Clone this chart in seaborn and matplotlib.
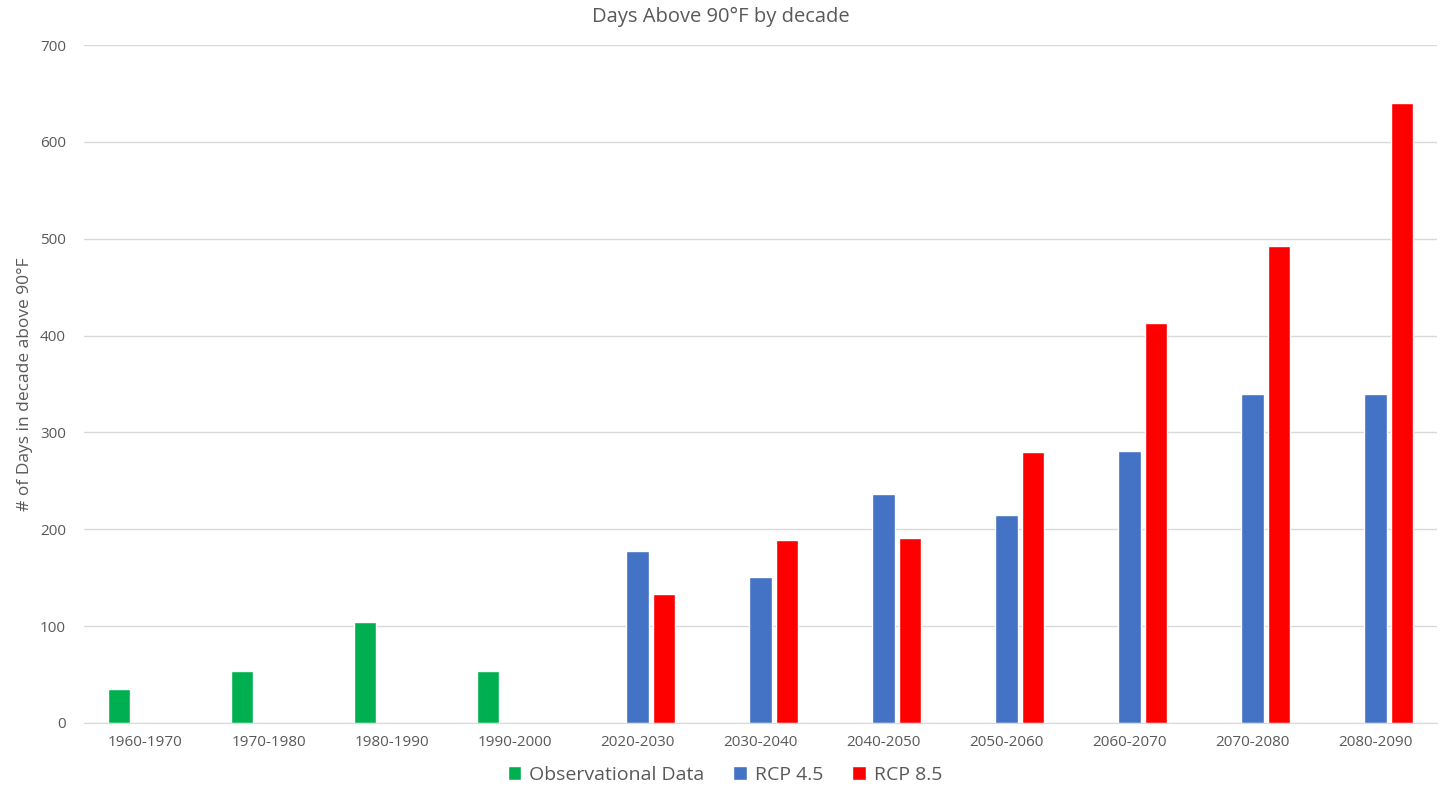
import pandas as pd
import seaborn as sns
from matplotlib import pyplot as plt

# decades on the x axis
decades = ['1960-1970', '1970-1980', '1980-1990', '1990-2000', '2020-2030', '2030-2040',
           '2040-2050', '2050-2060', '2060-2070', '2070-2080', '2080-2090']
obs_decades = decades[:4]
model_decades = decades[4:]

observed = [35, 54, 104, 54]
rcp45 = [178, 151, 236, 215, 281, 340, 340]
rcp85 = [133, 189, 191, 280, 413, 492, 640]

series = ['Observational Data', 'RCP 4.5', 'RCP 8.5']
colors = ['#00B050', '#4472C4', '#FF0000']

rows = []
for d, v in zip(obs_decades, observed):
    rows.append((d, series[0], v))
for d, v in zip(model_decades, rcp45):
    rows.append((d, series[1], v))
for d, v in zip(model_decades, rcp85):
    rows.append((d, series[2], v))
df = pd.DataFrame(rows, columns=['decade', 'series', 'days'])

sns.set_style('white')
plt.rcParams['font.family'] = ['Open Sans', 'DejaVu Sans']
grey = '#595959'

fig = plt.figure(figsize=(14.41, 7.86), dpi=100)
ax = fig.add_axes([0.0583, 0.0802, 0.9389, 0.8625])

sns.barplot(data=df, x='decade', y='days', hue='series', order=decades,
            hue_order=series, palette=colors, width=0.65, gap=0.15,
            saturation=1, ax=ax, legend=True)

ax.set_ylim(0, 700)
ax.set_xlim(-0.5, len(decades) - 0.5)
ax.set_yticks(range(0, 701, 100))
ax.grid(axis='y', color='#D9D9D9', linewidth=1)
ax.set_axisbelow(True)
for s in ['top', 'right', 'left']:
    ax.spines[s].set_visible(False)
ax.spines['bottom'].set_color('#D9D9D9')
ax.tick_params(axis='both', length=0, labelsize=11, colors=grey)
ax.tick_params(axis='x', pad=9)
ax.tick_params(axis='y', pad=13)

ax.set_xlabel('')
ax.set_ylabel('# of Days in decade above 90°F', fontsize=12.5, color=grey, labelpad=5)
fig.text(0.5, 0.978, 'Days Above 90°F by decade', ha='center', va='center',
         fontsize=14.5, color=grey)

# legend centred on the figure, below the axis labels
handles, labels = ax.get_legend_handles_labels()
ax.legend(handles, labels, loc='center', bbox_to_anchor=(0.503, 0.014),
          bbox_transform=fig.transFigure, ncol=3,
          frameon=False, fontsize=14, labelcolor=grey, handlelength=0.7,
          handleheight=0.7, handletextpad=0.4, columnspacing=1.5)

plt.savefig('out.png', dpi=100)
